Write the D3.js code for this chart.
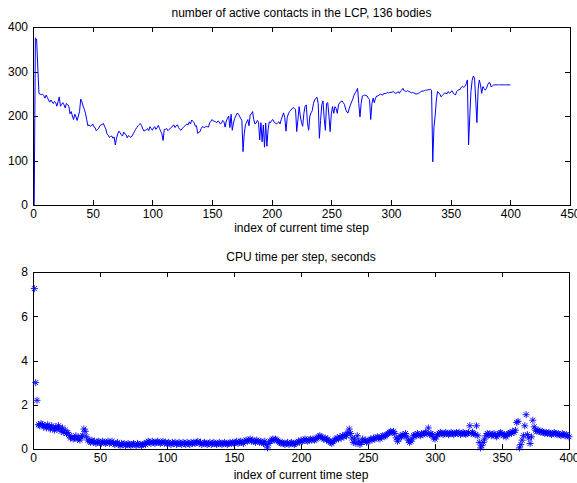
<!DOCTYPE html>
<html>
<head>
<meta charset="utf-8">
<script src="https://d3js.org/d3.v7.min.js"></script>
<style>
  body { margin: 0; background: #fff; }
  svg { display: block; font-family: "Liberation Sans", Arial, Helvetica, sans-serif; }
  .axis path, .axis line { stroke: #000; shape-rendering: crispEdges; }
  .axis text { font-size: 12px; fill: #000; }
  .label { font-size: 12px; fill: #000; }
</style>
</head>
<body>
<script>
var width = 577,
    height = 483;

// number of active contacts, one value per time step (step 1..400)
var contacts = [
  0,375,373,310,251,249,248,249,246,240,
  247,242,236,231,236,232,228,233,230,222,
  232,243,222,226,230,225,218,228,226,222,
  205,210,200,192,204,198,190,200,210,238,
  232,222,215,206,192,178,180,177,178,182,
  176,174,167,170,172,178,180,181,183,176,
  171,160,157,152,154,155,150,153,135,150,
  160,166,162,158,155,164,160,158,151,156,
  154,152,155,160,165,170,174,178,181,183,
  178,171,166,168,169,172,167,176,172,168,
  173,176,170,174,179,172,166,160,145,170,
  170,172,167,170,172,174,178,180,174,178,
  180,174,170,168,172,174,177,180,182,180,
  187,182,191,188,185,177,178,161,163,165,
  172,176,175,174,177,176,175,184,188,192,
  189,188,187,185,189,187,182,184,190,187,
  175,189,195,200,174,204,168,184,195,200,
  206,205,200,195,190,120,160,180,186,192,
  178,202,205,210,192,182,184,190,186,146,
  185,142,180,130,184,132,170,187,185,190,
  192,187,184,182,185,187,182,192,200,207,
  196,166,196,205,210,213,216,219,217,215,
  165,191,221,200,185,177,206,222,225,185,
  168,200,207,212,228,236,240,242,228,150,
  190,225,234,195,168,228,230,200,165,205,
  221,206,221,217,206,225,230,232,234,230,
  226,215,209,207,217,225,232,238,247,252,
  256,262,228,198,228,245,246,247,246,245,
  240,237,192,228,240,230,240,245,245,247,
  249,248,247,251,250,251,253,252,253,253,
  254,255,252,251,252,255,251,256,258,262,
  257,256,255,257,255,254,252,253,252,251,
  249,250,251,252,255,256,256,257,258,258,
  259,259,260,258,97,176,200,236,255,252,
  249,243,246,249,252,251,250,255,251,253,
  257,252,250,247,255,258,259,260,265,267,
  264,267,272,281,135,198,255,280,290,285,
  236,185,260,281,270,251,266,262,258,262,
  270,275,274,265,268,270,270,270,270,270,
  270,270,270,270,270,270,270,270,270,270
];

// CPU time per step in seconds (step 1..400)
var cpuTime = [
  7.25,3.0,2.2,1.1,1.05,1.15,1.1,1.0,1.05,0.95,
  1.1,1.0,0.9,1.05,0.95,0.85,1.0,0.9,1.05,0.95,
  0.8,0.95,0.75,0.85,0.7,0.75,0.6,0.5,0.55,0.45,
  0.5,0.6,0.45,0.5,0.4,0.55,0.6,0.9,0.8,0.55,
  0.4,0.35,0.3,0.4,0.3,0.35,0.25,0.3,0.35,0.3,
  0.25,0.35,0.3,0.25,0.3,0.35,0.25,0.3,0.35,0.25,
  0.2,0.25,0.3,0.2,0.15,0.25,0.2,0.25,0.15,0.2,
  0.25,0.2,0.15,0.2,0.25,0.2,0.15,0.25,0.2,0.2,
  0.15,0.2,0.25,0.2,0.3,0.35,0.3,0.25,0.35,0.3,
  0.25,0.3,0.35,0.3,0.25,0.3,0.35,0.25,0.3,0.25,
  0.3,0.25,0.2,0.3,0.25,0.3,0.2,0.25,0.3,0.25,
  0.2,0.3,0.25,0.2,0.3,0.25,0.2,0.3,0.25,0.3,
  0.25,0.3,0.35,0.25,0.3,0.2,0.25,0.3,0.25,0.2,
  0.25,0.3,0.2,0.25,0.3,0.25,0.2,0.25,0.3,0.25,
  0.2,0.25,0.3,0.25,0.2,0.25,0.3,0.25,0.3,0.25,
  0.3,0.35,0.25,0.3,0.35,0.3,0.25,0.35,0.4,0.35,
  0.4,0.45,0.35,0.4,0.35,0.3,0.4,0.35,0.3,0.35,
  0.3,0.25,0.35,0.2,0.05,0.25,0.35,0.4,0.45,0.4,
  0.45,0.4,0.35,0.3,0.25,0.3,0.25,0.2,0.25,0.3,
  0.2,0.25,0.3,0.25,0.2,0.25,0.3,0.35,0.3,0.4,
  0.35,0.4,0.45,0.4,0.35,0.4,0.45,0.4,0.45,0.4,
  0.45,0.5,0.55,0.6,0.55,0.5,0.45,0.5,0.4,0.45,
  0.35,0.3,0.25,0.35,0.4,0.45,0.5,0.45,0.55,0.5,
  0.6,0.55,0.65,0.6,0.75,0.9,0.7,0.5,0.3,0.45,
  0.25,0.6,0.35,0.2,0.3,0.45,0.35,0.4,0.3,0.35,
  0.4,0.45,0.4,0.5,0.45,0.5,0.55,0.5,0.45,0.55,
  0.6,0.55,0.6,0.65,0.7,0.75,0.8,0.75,0.8,0.7,
  0.5,0.35,0.45,0.6,0.55,0.65,0.6,0.7,0.55,0.4,
  0.3,0.35,0.45,0.6,0.65,0.6,0.7,0.65,0.6,0.7,
  0.65,0.7,0.75,0.7,0.95,0.65,0.7,0.65,0.5,0.45,
  0.55,0.65,0.7,0.75,0.7,0.65,0.7,0.75,0.7,0.65,
  0.7,0.75,0.7,0.65,0.7,0.75,0.7,0.75,0.65,0.7,
  0.75,0.7,0.65,0.7,0.75,1.05,0.7,0.75,0.7,0.65,
  1.05,0.6,0.3,0.05,0.15,0.3,0.45,0.6,0.7,0.65,
  0.7,0.6,0.65,0.7,0.6,0.55,0.65,0.7,0.75,0.7,
  0.6,0.65,0.55,0.65,0.7,0.75,0.7,0.8,0.75,0.85,
  1.2,1.25,0.05,0.2,0.4,0.6,1.05,1.55,0.65,0.5,
  0.25,0.55,1.3,1.0,0.85,0.8,0.85,0.8,0.75,0.8,
  0.75,0.7,0.75,0.7,0.75,0.7,0.65,0.7,0.75,0.7,
  0.65,0.7,0.65,0.6,0.7,0.65,0.6,0.65,0.6,0.55
];

var topTicksX = [0, 50, 100, 150, 200, 250, 300, 350, 400, 450],
    topTicksY = [0, 100, 200, 300, 400],
    bottomTicksX = [0, 50, 100, 150, 200, 250, 300, 350, 400],
    bottomTicksY = [0, 2, 4, 6, 8];

var topTitle = "number of active contacts in the LCP, 136 bodies",
    bottomTitle = "CPU time per step, seconds",
    xLabel = "index of current time step";

var svg = d3.select("body").append("svg")
    .attr("width", width)
    .attr("height", height);

// draws a MATLAB style boxed panel, returns the scales
function panel(box, xDomain, yDomain, xTicks, yTicks, title, titleY, labelY) {
  var x = d3.scaleLinear().domain(xDomain).range([box.left, box.right]);
  var y = d3.scaleLinear().domain(yDomain).range([box.bottom, box.top]);

  svg.append("g").attr("class", "axis")
      .attr("transform", "translate(0," + box.bottom + ")")
      .call(d3.axisBottom(x).tickValues(xTicks).tickSizeInner(-5).tickSizeOuter(0).tickPadding(4));
  svg.append("g").attr("class", "axis")
      .attr("transform", "translate(0," + box.top + ")")
      .call(d3.axisTop(x).tickValues(xTicks).tickSizeInner(-5).tickSizeOuter(0).tickFormat(""));
  svg.append("g").attr("class", "axis")
      .attr("transform", "translate(" + box.left + ",0)")
      .call(d3.axisLeft(y).tickValues(yTicks).tickSizeInner(-5).tickSizeOuter(0).tickPadding(5));
  svg.append("g").attr("class", "axis")
      .attr("transform", "translate(" + box.right + ",0)")
      .call(d3.axisRight(y).tickValues(yTicks).tickSizeInner(-5).tickSizeOuter(0).tickFormat(""));

  svg.append("text").attr("class", "label")
      .attr("x", (box.left + box.right) / 2)
      .attr("y", titleY)
      .attr("text-anchor", "middle")
      .text(title);
  svg.append("text").attr("class", "label")
      .attr("x", (box.left + box.right) / 2)
      .attr("y", labelY)
      .attr("text-anchor", "middle")
      .text(xLabel);

  return {x: x, y: y};
}

var upper = panel({left: 33, right: 570, top: 27, bottom: 205},
    [0, 450], [0, 400], topTicksX, topTicksY, topTitle, 17, 232);

var line = d3.line()
    .x(function(d, i) { return upper.x(i + 1); })
    .y(function(d) { return upper.y(d); });

svg.append("path")
    .datum(contacts)
    .attr("d", line)
    .attr("fill", "none")
    .attr("stroke", "#0000ff")
    .attr("stroke-width", 1);

var lower = panel({left: 33, right: 569, top: 272, bottom: 449},
    [0, 400], [0, 8], bottomTicksX, bottomTicksY, bottomTitle, 261, 479);

// asterisk marker: plus and cross
var r = 3.5, a = r * 0.72;
var star = "M" + (-r) + ",0L" + r + ",0M0," + (-r) + "L0," + r +
           "M" + (-a) + "," + (-a) + "L" + a + "," + a +
           "M" + (-a) + "," + a + "L" + a + "," + (-a);

svg.append("g")
  .selectAll("path")
  .data(cpuTime)
  .enter()
  .append("path")
    .attr("transform", function(d, i) {
      return "translate(" + lower.x(i + 1) + "," + lower.y(d) + ")";
    })
    .attr("d", star)
    .attr("fill", "none")
    .attr("stroke", "#0000ff")
    .attr("stroke-width", 0.9);
</script>
</body>
</html>
